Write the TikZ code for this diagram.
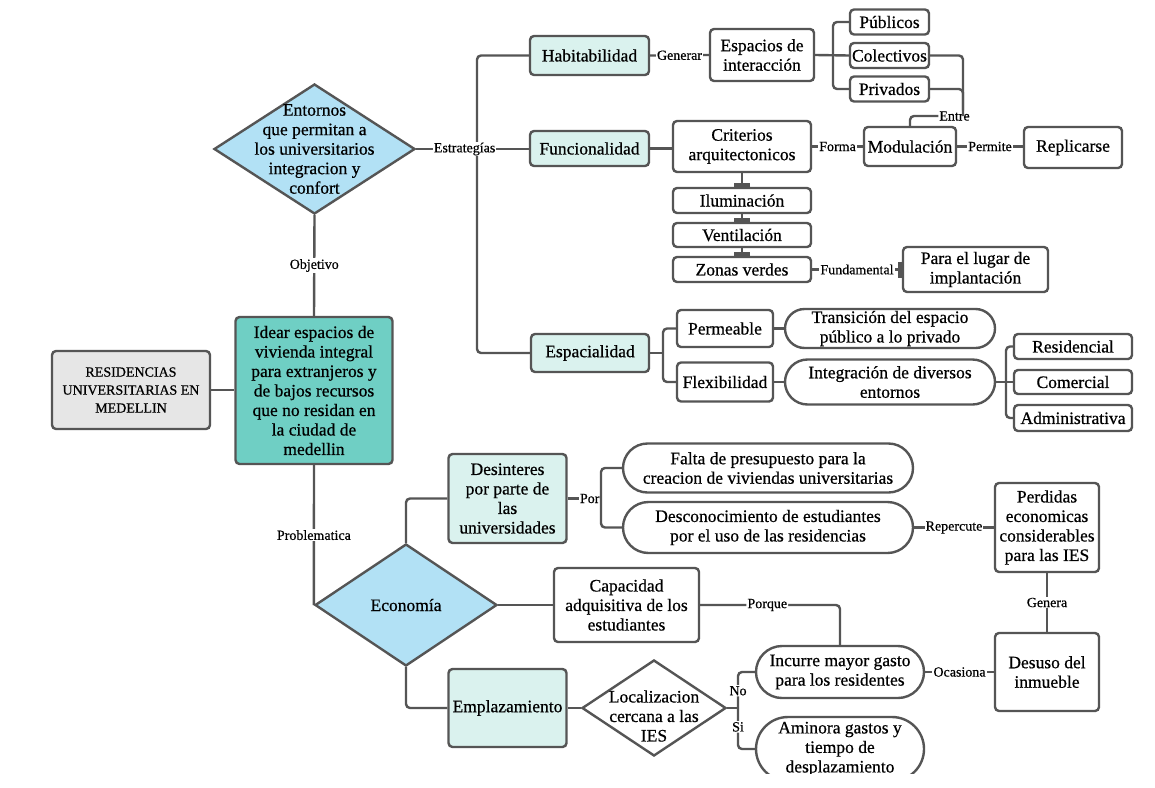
\documentclass[tikz,border=0pt]{standalone}
\usepackage{fontspec}
\setmainfont{Liberation Serif}[FakeBold=0.6]
\usetikzlibrary{shapes.geometric,shapes.misc,arrows.meta}
\definecolor{linegray}{RGB}{85,85,85}
\definecolor{diablue}{RGB}{178,225,245}
\definecolor{paleteal}{RGB}{218,242,238}
\definecolor{mainteal}{RGB}{111,207,196}
\definecolor{boxgray}{RGB}{230,230,230}
\tikzset{
  conn/.style={draw=linegray, line width=2.4pt},
  rc/.style={conn, rounded corners=4pt},
  box/.style={draw=linegray, line width=2.4pt, rounded corners=4pt, fill=white,
    align=center, inner sep=1pt, font=\fontsize{17.5}{19.5}\selectfont},
  sz/.style 2 args={minimum width=#1pt, minimum height=#2pt},
  pale/.style={box, fill=paleteal},
  pill/.style={rounded rectangle, draw=linegray, line width=2.4pt, fill=white,
    align=center, inner sep=1pt, font=\fontsize{17.5}{19.5}\selectfont},
  dia/.style={diamond, draw=linegray, line width=2.4pt, fill=diablue, inner sep=0pt},
  txt/.style={align=center, inner sep=0pt, font=\fontsize{17.5}{19.5}\selectfont},
  lbl/.style={fill=white, inner sep=1pt, font=\fontsize{14}{16}\selectfont},
  barend/.style={-{Bar[width=16pt, line width=1.5pt 1]}},
}
\begin{document}
\begin{tikzpicture}[x=1pt,y=-1pt]
\useasboundingbox[fill=white] (0,0) rectangle (1155,787);
\clip (0,0) rectangle (1155,773);

% centre column
\node[dia, sz={201}{130}] (entornos) at (314.5,149) {};
\node[txt] (entornos-txt) at (entornos) {Entornos\\que permitan a\\los universitarios\\integracion y\\confort};
\node[box, fill=mainteal, sz={157}{147}] (idear) at (314,390.5) {Idear espacios de\\vivienda integral\\para extranjeros y\\de bajos recursos\\que no residan en\\la ciudad de\\medellin};
\node[box, fill=boxgray, sz={158}{78}, font=\fontsize{14}{18}\selectfont] (univ) at (131,390) {RESIDENCIAS\\UNIVERSITARIAS EN\\MEDELLIN};
\node[dia, sz={182}{122}] (economia) at (406,605) {};
\node[txt] (economia-txt) at (economia) {Economía};

% estrategias
\node[pale, sz={119}{39}] (habit) at (589.5,55.5) {Habitabilidad};
\node[pale, sz={119}{35}] (func) at (589.5,148.5) {Funcionalidad};
\node[pale, sz={118}{38}] (espac) at (590,353) {Espacialidad};
\coordinate (trunk) at (477,149);

\node[box, sz={104}{52}] (espacios) at (762,55) {Espacios de\\interacción};
\node[box, sz={79}{25}] (publ) at (889.5,22) {Públicos};
\node[box, sz={79}{25}] (colect) at (889.5,55.5) {Colectivos};
\node[box, sz={79}{25}] (priv) at (889.5,89) {Privados};
\coordinate (espcb) at (833,55);
\coordinate (entrec) at (963,116);

\node[box, sz={138}{51}] (criter) at (742,146.5) {Criterios\\arquitectonicos};
\node[box, sz={92}{39}] (modul) at (910,146.5) {Modulación};
\node[box, sz={98}{41}] (replic) at (1073,147.5) {Replicarse};
\node[box, sz={138}{25}] (ilum) at (742,200.5) {Iluminación};
\node[box, sz={138}{24}] (vent) at (742,235) {Ventilación};
\node[box, sz={138}{25}] (zonas) at (742,269.5) {Zonas verdes};
\node[box, sz={145}{45}] (lugar) at (975.5,269.5) {Para el lugar de\\implantación};

\node[box, sz={96}{37}] (perm) at (725,328.5) {Permeable};
\node[box, sz={96}{39}] (flex) at (725,382) {Flexibilidad};
\node[pill, sz={212}{39}] (trans) at (890,328.5) {Transición del espacio\\público a lo privado};
\node[pill, sz={212}{45}] (integ) at (890,382) {Integración de diversos\\entornos};
\node[box, sz={118}{25}] (resi) at (1073,346.5) {Residencial};
\node[box, sz={118}{24}] (comer) at (1073,382) {Comercial};
\node[box, sz={118}{26}] (admin) at (1073,418) {Administrativa};
\coordinate (espb) at (663,353);
\coordinate (intb) at (1006,382);

% problematica
\node[pale, sz={118}{89}] (desint) at (507.5,498.5) {Desinteres\\por parte de\\las\\universidades};
\node[pale, sz={118}{78}] (emplaz) at (507.5,708) {Emplazamiento};
\node[box, sz={145}{74}] (capac) at (626.5,605) {Capacidad\\adquisitiva de los\\estudiantes};
\node[pill, sz={292}{49}] (falta) at (768,468) {Falta de presupuesto para la\\creacion de viviendas universitarias};
\node[pill, sz={292}{51}] (desconoc) at (768,527.5) {Desconocimiento de estudiantes\\por el uso de las residencias};
\node[box, sz={104}{89}] (perdidas) at (1047,527.5) {Perdidas\\economicas\\considerables\\para las IES};
\node[box, sz={104}{78}] (desuso) at (1047,672) {Desuso del\\inmueble};
\node[pill, sz={170}{52}] (incurre) at (840,672) {Incurre mayor gasto\\para los residentes};
\node[pill, sz={170}{64}] (aminora) at (840,749) {Aminora gastos y\\tiempo de\\desplazamiento};
\node[dia, sz={144}{96}, fill=white] (localiz) at (654,708) {};
\node[txt] (localiz-txt) at (654,716) {Localizacion\\cercana a las\\IES};
\coordinate (porb) at (601,498.5);
\coordinate (locb) at (738,708);

% connectors
\draw[rc] (habit.west) -| (trunk |- espac.west) -- (espac.west);
\draw[conn] (entornos.east) -- node[lbl, pos=.43] (estrat) {Estrategías} (entornos.east -| func.west);
\draw[conn] (entornos.south) -- node[lbl] (objetivo) {Objetivo} (idear.north);
\draw[conn] (univ.east) -- (univ.east -| idear.west);
\draw[conn] (idear.south) -- node[lbl] (problem) {Problematica} (economia.west);

\draw[conn] (habit.east) -- node[lbl] (generar) {Generar} (espacios.west);
\draw[conn] (espacios.east) -- (colect.west);
\draw[rc] (publ.west) -| (espcb |- priv.west) -- (priv.west);
\draw[rc] (colect.east) -| (entrec) -| node[lbl, pos=.08] (entre) {Entre} (modul.north);
\draw[rc] (priv.east) -| (entrec);

\draw[conn] (func.east) -- (func.east -| criter.west);
\draw[conn] (criter.east) -- node[lbl] (forma) {Forma} (modul.west);
\draw[conn] (modul.east) -- node[lbl] (permite) {Permite} (modul.east -| replic.west);
\draw[conn, barend] (criter.south) -- (ilum.north);
\draw[conn, barend] (ilum.south) -- (vent.north);
\draw[conn, barend] (vent.south) -- (zonas.north);
\draw[conn, barend] (zonas.east) -- node[lbl] (fundam) {Fundamental} (lugar.west);

\draw[conn] (espac.east) -- (espb);
\draw[rc] (perm.west) -| (espb |- flex.west) -- (flex.west);
\draw[conn] (perm.east) -- (trans.west);
\draw[conn] (flex.east) -- (integ.west);
\draw[conn] (integ.east) -- (comer.west);
\draw[rc] (resi.west) -| (intb |- admin.west) -- (admin.west);

\draw[rc] (economia.north) |- (desint.west);
\draw[rc] (economia.south) |- (emplaz.west);
\draw[conn] (economia.east) -- (capac.west);
\draw[conn] (desint.east) -- node[lbl, pos=.66] (por) {Por} (porb);
\draw[rc] (falta.west) -| (porb |- desconoc.west) -- (desconoc.west);
\draw[conn] (desconoc.east) -- node[lbl] (repercute) {Repercute} (perdidas.west);
\draw[rc] (capac.east) -| node[lbl, pos=.24] (porque) {Porque} (incurre.north);
\draw[conn] (incurre.east) -- node[lbl] (ocasiona) {Ocasiona} (desuso.west);
\draw[conn] (desuso.north) -- node[lbl] (genera) {Genera} (perdidas.south);
\draw[conn] (emplaz.east) -- (localiz.west);
\draw[conn] (localiz.east) -- (locb);
\draw[rc] (incurre.west) -| node[lbl, pos=.76] (no) {No} (locb);
\draw[rc] (aminora.west) -| node[lbl, pos=.77] (si) {Si} (locb);
\end{tikzpicture}
\end{document}
